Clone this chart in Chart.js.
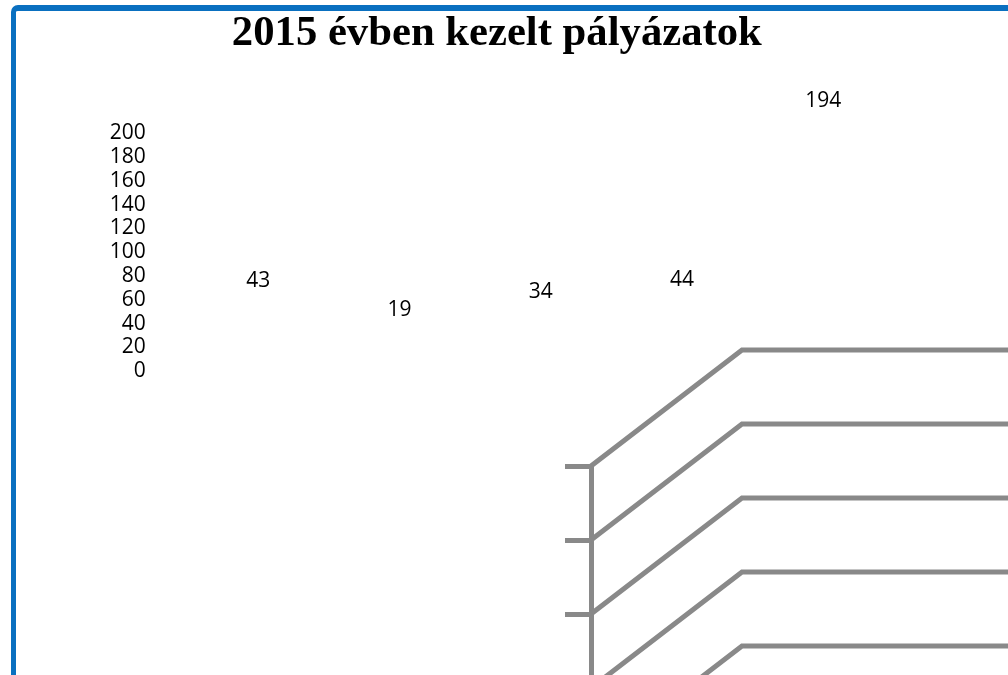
<!DOCTYPE html>
<html>
<head>
<meta charset="utf-8">
<script src="https://cdn.jsdelivr.net/npm/chart.js@4/dist/chart.umd.min.js"></script>
<style>
  html, body { margin:0; padding:0; width:1008px; height:675px; overflow:hidden; background:#ffffff; }
  #frame { position:absolute; left:11px; top:5px; width:1100px; height:800px; box-sizing:border-box;
           border:6px solid #0a70c0; border-left-width:5px; border-radius:7px; }
  #c3d { position:absolute; left:0; top:0; }
  #main { position:absolute; left:0; top:0; }
</style>
</head>
<body>
<canvas id="c3d" width="1100" height="1250"></canvas>
<div id="frame"></div>
<canvas id="main" width="997" height="675"></canvas>
<script>
// ---- data ----
const title = '2015 évben kezelt pályázatok';
const categories = ['1', '2', '3', '4', '5'];
const values = [43, 19, 34, 44, 194];
const yMin = 0;
const yMax = 200;
const yStep = 20;

// ---- styles ----
const LABEL_FONT = '21px "Open Sans"';
const LABEL_OFFSET = 39;
const GRID_COLOR = '#898989';
const DEPTH_X = 151;
const DEPTH_Y = 116;

const valueLabels = {
  id: 'valueLabels',
  afterDatasetsDraw(chart) {
    const ctx = chart.ctx;
    const meta = chart.getDatasetMeta(0);
    ctx.save();
    ctx.font = LABEL_FONT;
    ctx.fillStyle = '#000000';
    ctx.textAlign = 'center';
    ctx.textBaseline = 'middle';
    meta.data.forEach((bar, i) => {
      ctx.fillText(String(values[i]), bar.x, bar.y - LABEL_OFFSET);
    });
    ctx.restore();
  }
};

new Chart(document.getElementById('main'), {
  type: 'bar',
  data: {
    labels: categories,
    datasets: [{ data: values, backgroundColor: 'rgba(0,0,0,0)', borderWidth: 0 }]
  },
  options: {
    responsive: false,
    animation: false,
    events: [],
    layout: { padding: { left: 99.7, right: 103, top: 0, bottom: 303.8 } },
    plugins: {
      legend: { display: false },
      tooltip: { enabled: false },
      title: {
        display: true,
        text: title,
        color: '#000000',
        font: { family: '"Liberation Serif", "Times New Roman", serif', size: 42.7, weight: 'bold', lineHeight: 1.2 },
        padding: { top: 8, bottom: 74.1 }
      }
    },
    scales: {
      x: { display: false },
      y: {
        min: yMin, max: yMax,
        grid: { display: false, drawTicks: false },
        border: { display: false },
        afterFit(s) { s.width = 88; },
        ticks: {
          stepSize: yStep,
          autoSkip: false,
          padding: 42,
          color: '#000000',
          font: { family: '"Open Sans"', size: 21, lineHeight: 1 }
        }
      }
    }
  },
  plugins: [valueLabels]
});

const depthGrid = {
  id: 'depthGrid',
  afterDraw(chart) {
    const ys = chart.scales.y;
    const ctx = chart.ctx;
    const left = chart.chartArea.left;
    ctx.save();
    ctx.strokeStyle = GRID_COLOR;
    ctx.lineWidth = 5;
    ctx.lineJoin = 'miter';
    ys.ticks.forEach(t => {
      const py = ys.getPixelForValue(t.value);
      ctx.beginPath();
      ctx.moveTo(left, py);
      ctx.lineTo(left + DEPTH_X, py - DEPTH_Y);
      ctx.lineTo(chart.width, py - DEPTH_Y);
      ctx.stroke();
    });
    ctx.restore();
  }
};

new Chart(document.getElementById('c3d'), {
  type: 'bar',
  data: {
    labels: categories,
    datasets: [{ data: values, backgroundColor: 'rgba(0,0,0,0)', borderWidth: 0 }]
  },
  options: {
    responsive: false,
    animation: false,
    events: [],
    layout: { padding: { left: 565, right: 0, top: 466, bottom: 44 } },
    plugins: { legend: { display: false }, tooltip: { enabled: false }, title: { display: false } },
    scales: {
      x: { display: false },
      y: {
        min: yMin, max: yMax,
        ticks: { stepSize: yStep, display: false, autoSkip: false },
        grid: { drawOnChartArea: false, drawTicks: true, tickLength: 26, lineWidth: 5, color: GRID_COLOR },
        border: { display: true, width: 5, color: GRID_COLOR }
      }
    }
  },
  plugins: [depthGrid]
});
</script>
</body>
</html>
